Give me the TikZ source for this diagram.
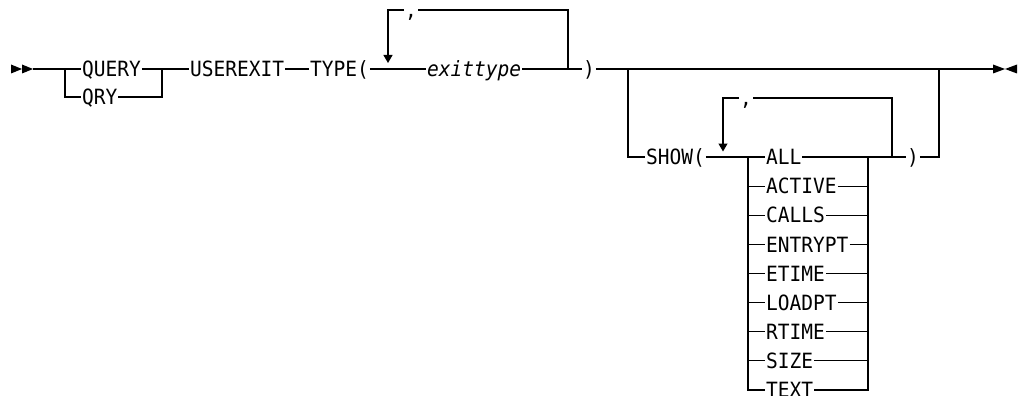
\documentclass[tikz,border=0pt]{standalone}
\usepackage{fontspec}
\newfontfamily\rrfont[FakeStretch=0.93]{DejaVu Sans Mono}
\usetikzlibrary{arrows.meta}

\tikzset{
  rr/.style={line width=1.2pt},
  kw/.style={font=\rrfont\fontsize{21}{22}\selectfont, anchor=west,
    inner xsep=0.5pt, inner ysep=0pt, text height=15.3pt, text depth=0pt},
  var/.style={kw, font=\rrfont\itshape\fontsize{21}{22}\selectfont},
  rep/.style={-{Triangle[width=9pt,length=8pt]}},
}

\begin{document}
\begin{tikzpicture}[x=1pt,y=-1pt,rr]
\useasboundingbox (0,0) rectangle (1018,396);
% start mark
\fill (11,64.5) -- (22,69) -- (11,73.5) -- cycle;
\fill (22,64.5) -- (33,69) -- (22,73.5) -- cycle;
\coordinate (start) at (33,69);
% QUERY or QRY
\coordinate (j1) at (65,69);
\coordinate (j2) at (162,69);
\node[kw] (query) at (81,69) {QUERY};
\node[kw] (qry) at (81,97) {QRY};
\draw (start) -- (query.west);
\draw (j1) |- (qry.west);
\draw (qry.east) -| (j2);
\node[kw] (userexit) at (189,69) {USEREXIT};
\draw (query.east) -- (userexit.west);
\node[kw] (type) at (309,69) {TYPE(};
\draw (userexit.east) -- (type.west);
\node[var] (exittype) at (426,69) {exittype};
\draw (type.east) -- (exittype.west);
\node[kw] (rpa) at (582,69) {)};
\draw (exittype.east) -- (rpa.west);
% repeat exittype
\coordinate (latip) at (388,63);
\coordinate (lb) at (568,69);
\node[kw] (cma) at (404,10) {,};
\draw (lb) |- (cma.east);
\draw[rep] (cma.west) -| (latip);
% optional SHOW(...)
\coordinate (b1) at (628,69);
\coordinate (b2) at (939,69);
\coordinate (end) at (993,69);
\draw (rpa.east) -- (end);
\node[kw] (show) at (645,157) {SHOW(};
\draw (b1) |- (show.west);
\coordinate (c1) at (748,157);
\coordinate (c2) at (868,157);
\foreach \opt [count=\i from 0] in {ALL,ACTIVE,CALLS,ENTRYPT,ETIME,LOADPT,RTIME,SIZE,TEXT} {
  \node[kw] (o\i) at (765,157+29.125*\i) {\opt};
  \draw (c1) |- (o\i.west);
  \draw (o\i.east) -| (c2);
}
\draw (show.east) -- (o0.west);
\node[kw] (rpb) at (906,157) {)};
\draw (o0.east) -- (rpb.west);
\draw (rpb.east) -| (b2);
% repeat options
\coordinate (matip) at (723,151.5);
\coordinate (mb) at (892,157);
\node[kw] (cmb) at (739,98) {,};
\draw (mb) |- (cmb.east);
\draw[rep] (cmb.west) -| (matip);
% end mark
\fill (993,64.5) -- (1005,69) -- (993,73.5) -- cycle;
\fill (1017,64.5) -- (1005,69) -- (1017,73.5) -- cycle;
\end{tikzpicture}
\end{document}
